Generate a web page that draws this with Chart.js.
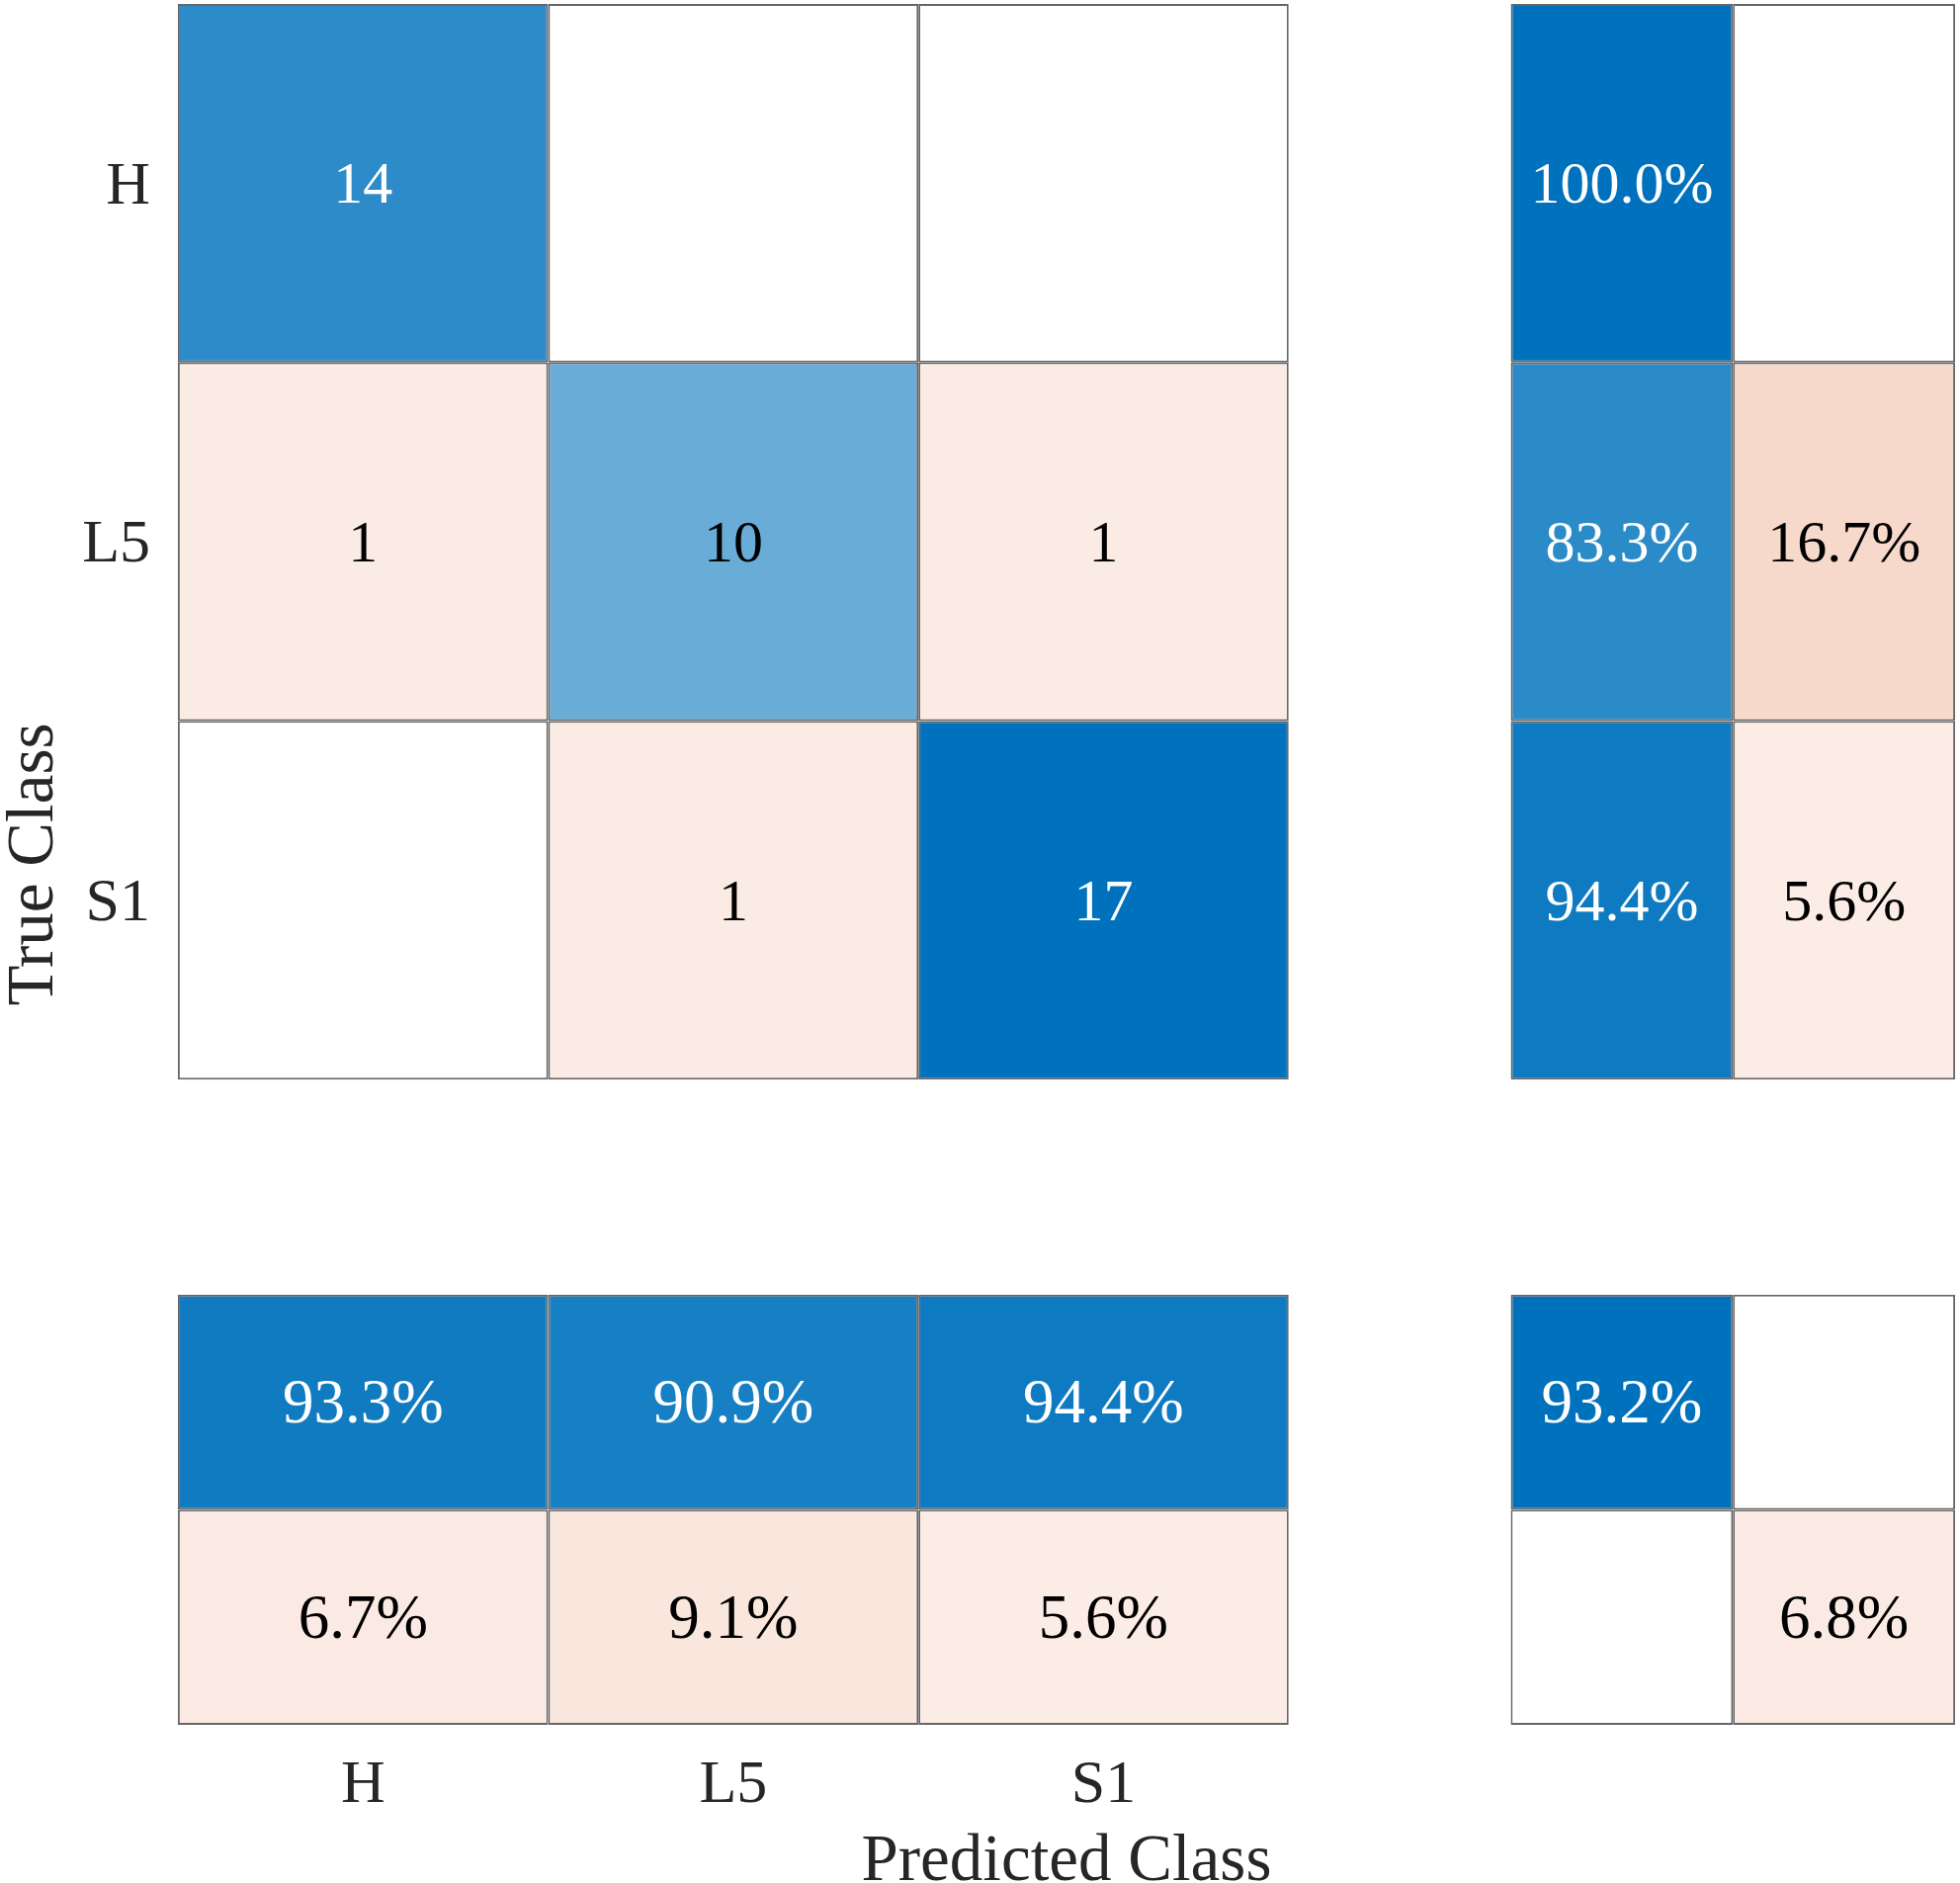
<!DOCTYPE html>
<html>
<head>
<meta charset="utf-8">
<title>Confusion Matrix</title>
<script src="https://cdn.jsdelivr.net/npm/chart.js@4.4.1/dist/chart.umd.min.js"></script>
<style>
    html, body { margin: 0; padding: 0; background: #fff; }
    #wrap { position: relative; width: 1983px; height: 1905px; }
</style>
</head>
<body>
<div id="wrap"><canvas id="cm"></canvas></div>
<script>
// ============================================================
// Confusion chart (counts + row / column summaries)
// ============================================================

// ── Data ──
var classes = ["H", "L5", "S1"];
var counts = [
    [14, 0, 0],
    [1, 10, 1],
    [0, 1, 17]
];
// row summary (per true class), %
var rowCorrect = [100.0, 83.3, 94.4];
var rowWrong = [0, 16.7, 5.6];
// column summary (per predicted class), %
var colCorrect = [93.3, 90.9, 94.4];
var colWrong = [6.7, 9.1, 5.6];
// overall, %
var totalCorrect = 93.2;
var totalWrong = 6.8;

// ── Layout in axis units: main cell = 1, summary strip = 0.6, gap = 0.6 ──
var STRIP = 0.6, GAP = 0.6;
var N = classes.length;
var sumStart = N + GAP;
var axisMax = sumStart + 2 * STRIP;
var mainCenters = classes.map(function (c, i) { return i + 0.5; });
var sumCenters = [sumStart + STRIP / 2, sumStart + STRIP * 1.5];
var sumRows = [[sumStart, sumStart + STRIP], [sumStart + STRIP, axisMax]];

var FONT = "'Liberation Serif', 'Times New Roman', serif";
var INK = "#262626";

// ── Colours ──
var BLUE = [0, 114, 189], RED = [217, 83, 25];
function mix(rgb, f) {
    f = Math.max(0, Math.min(1, f));
    var c = rgb.map(function (v) { return Math.round(255 + (v - 255) * f); });
    return "rgb(" + c.join(",") + ")";
}
function blueCell(f) { return f > 0 ? mix(BLUE, f) : "#ffffff"; }
function redCell(f) { return f > 0 ? mix(RED, 0.055 + f) : "#ffffff"; }

function pct(v) { return v > 0 ? v.toFixed(1) + "%" : ""; }

function cell(x, span, fill, txt, light) {
    return { x: x, y: span, fill: fill, txt: txt, ink: light ? "#ffffff" : "#000000" };
}

// main matrix
var maxCount = Math.max.apply(null, counts.map(function (r) { return Math.max.apply(null, r); }));
var mainCells = [];
counts.forEach(function (row, i) {
    row.forEach(function (v, j) {
        var f = v / maxCount;
        var fill = i === j ? blueCell(f) : redCell(f);
        mainCells.push(cell(mainCenters[j], [i, i + 1], fill, v > 0 ? String(v) : "", i === j && f > 0.7));
    });
});

// column summary strip (below)
var colCells = [];
classes.forEach(function (c, j) {
    colCells.push(cell(mainCenters[j], sumRows[0], blueCell(colCorrect[j] / 100), pct(colCorrect[j]), colCorrect[j] > 70));
    colCells.push(cell(mainCenters[j], sumRows[1], redCell(colWrong[j] / 100), pct(colWrong[j]), false));
});

// row summary strip (right)
var rowCells = [];
classes.forEach(function (c, i) {
    rowCells.push(cell(sumCenters[0], [i, i + 1], blueCell(rowCorrect[i] / 100), pct(rowCorrect[i]), rowCorrect[i] > 70));
    rowCells.push(cell(sumCenters[1], [i, i + 1], redCell(rowWrong[i] / 100), pct(rowWrong[i]), false));
});

// overall corner (accuracy shown at full colour)
var cornerCells = [
    cell(sumCenters[0], sumRows[0], blueCell(1), pct(totalCorrect), true),
    cell(sumCenters[1], sumRows[0], "#ffffff", "", false),
    cell(sumCenters[0], sumRows[1], "#ffffff", "", false),
    cell(sumCenters[1], sumRows[1], redCell(totalWrong / 100), pct(totalWrong), false)
];

// ── Cell text plugin ──
var cellText = {
    id: "cellText",
    afterDatasetsDraw: function (chart) {
        var ctx = chart.ctx;
        ctx.save();
        ctx.textAlign = "center";
        ctx.textBaseline = "middle";
        chart.data.datasets.forEach(function (ds, di) {
            var meta = chart.getDatasetMeta(di);
            ctx.font = (ds.textSize || 60) + "px " + FONT;
            meta.data.forEach(function (bar, k) {
                var p = ds.data[k];
                if (!p.txt) return;
                var b = bar.getProps(["x", "y", "base"], true);
                ctx.fillStyle = p.ink;
                // glyphs sit a touch below the exact middle in the original
                ctx.fillText(p.txt, b.x, (b.y + b.base) / 2 + 4);
            });
        });
        ctx.restore();
    }
};

function ds(label, axis, data, textSize) {
    return {
        label: label,
        xAxisID: axis,
        data: data,
        textSize: textSize,
        backgroundColor: function (c) { return c.raw ? c.raw.fill : "#fff"; },
        borderColor: "rgba(0,0,0,0.6)",
        borderWidth: 1.9,
        borderSkipped: false,
        inflateAmount: 0,
        grouped: false,
        barPercentage: 1,
        categoryPercentage: 1
    };
}

function fixedTicks(values) {
    return function (scale) {
        scale.ticks = values.map(function (v) { return { value: v }; });
    };
}

// pin the plot area: no extra label padding on either axis
function fitX(s) { s.height = 160; s.paddingLeft = 0; s.paddingRight = 0; }
function fitY(s) { s.width = 180; s.paddingTop = 0; s.paddingBottom = 0; }

new Chart(document.getElementById("cm"), {
    type: "bar",
    data: {
        datasets: [
            ds("Counts", "x", mainCells, 60),
            ds("Column summary", "x", colCells, 63),
            ds("Row summary", "x2", rowCells, 60),
            ds("Overall", "x2", cornerCells, 63)
        ]
    },
    options: {
        responsive: true,
        maintainAspectRatio: false,
        animation: false,
        layout: { padding: { top: 4, right: 5, bottom: 0, left: 0 } },
        plugins: {
            legend: { display: false },
            tooltip: { enabled: false }
        },
        scales: {
            x: {
                type: "linear",
                position: "bottom",
                offset: false,
                min: 0,
                max: axisMax,
                afterBuildTicks: fixedTicks(mainCenters),
                afterFit: fitX,
                grid: { display: false, drawTicks: false, offset: false },
                border: { display: false },
                ticks: {
                    padding: 25,
                    color: INK,
                    font: { family: FONT, size: 62 },
                    callback: function (v, i) { return classes[i]; }
                },
                title: {
                    display: true,
                    text: "Predicted Class",
                    color: INK,
                    padding: 0,
                    font: { family: FONT, size: 67, lineHeight: 0.6 }
                }
            },
            x2: {
                type: "linear",
                display: false,
                offset: false,
                min: 0,
                max: axisMax,
                grid: { offset: false },
                afterBuildTicks: fixedTicks(sumCenters),
                afterFit: function (s) { s.height = 0; s.paddingLeft = 0; s.paddingRight = 0; }
            },
            y: {
                type: "linear",
                reverse: true,
                min: 0,
                max: axisMax,
                afterBuildTicks: fixedTicks(mainCenters),
                afterFit: fitY,
                grid: { display: false, drawTicks: false },
                border: { display: false },
                ticks: {
                    padding: 28,
                    labelOffset: 4,
                    color: INK,
                    font: { family: FONT, size: 62 },
                    callback: function (v, i) { return classes[i]; }
                },
                title: {
                    display: true,
                    text: "True Class",
                    color: INK,
                    padding: 0,
                    font: { family: FONT, size: 67, lineHeight: 1.05 }
                }
            }
        }
    },
    plugins: [cellText]
});
</script>
</body>
</html>
